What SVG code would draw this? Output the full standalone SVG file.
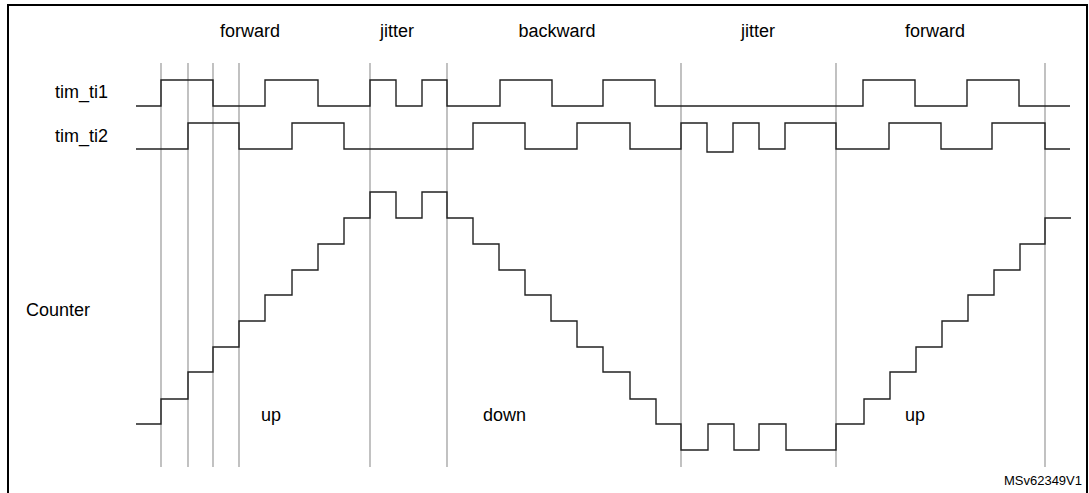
<svg xmlns="http://www.w3.org/2000/svg" width="1089" height="493" viewBox="0 0 1089 493">
<style>
.t{font-family:"Liberation Sans",Arial,sans-serif;font-size:18px;fill:#000}
.g{stroke:#999;stroke-width:1.2;fill:none}
.w{stroke:#222;stroke-width:1.4;fill:none}
</style>
<rect x="0" y="0" width="1089" height="493" fill="#fff"/>
<rect x="8" y="5" width="1079" height="495" fill="none" stroke="#000" stroke-width="2"/>
<g id="labels">
<text class="t" x="250" y="37" text-anchor="middle">forward</text>
<text class="t" x="397" y="37" text-anchor="middle">jitter</text>
<text class="t" x="557" y="37" text-anchor="middle">backward</text>
<text class="t" x="758" y="37" text-anchor="middle">jitter</text>
<text class="t" x="935" y="37" text-anchor="middle">forward</text>
<text class="t" x="55" y="98">tim_ti1</text>
<text class="t" x="55" y="142">tim_ti2</text>
<text class="t" x="26" y="316">Counter</text>
<text class="t" x="261" y="421">up</text>
<text class="t" x="483" y="421">down</text>
<text class="t" x="905" y="421">up</text>
<text x="1082" y="485" text-anchor="end" style="font-family:'Liberation Sans',Arial,sans-serif;font-size:13px">MSv62349V1</text>
</g>
<g id="gridlines">
<path class="g" d="M161 63V467M188 63V467M213 63V467M239 63V467M370 63V467M447 63V467M681 63V467M836 63V467M1045 63V467"/>
</g>
<g id="tim_ti1">
<path class="w" d="M136 106H161V80H213V106H265V80H318V106H370V80H396V106H422V80H447V106H500V80H552V106H603V80H655V106H863V80H915V106H967V80H1019V106H1070"/>
</g>
<g id="tim_ti2">
<path class="w" d="M136 149H188V123H239V149H292V123H344V149H473V123H525V149H577V123H630V149H681V123H707V152H733V123H759V149H785V123H836V149H889V123H941V149H992V123H1045V149H1070"/>
</g>
<g id="counter">
<path class="w" d="M136 424H161V399H188V372H213V347H239V321H265V295H292V270H318V244H344V218H370V192H396V218H422V192H447V218H473V244H499V270H525V295H551V321H577V347H603V372H630V399H656V424H681V450H708V424H734V450H759V424H786V450H836V424H864V399H890V372H916V347H942V321H968V295H994V270H1020V244H1045V218H1071"/>
</g>
</svg>
